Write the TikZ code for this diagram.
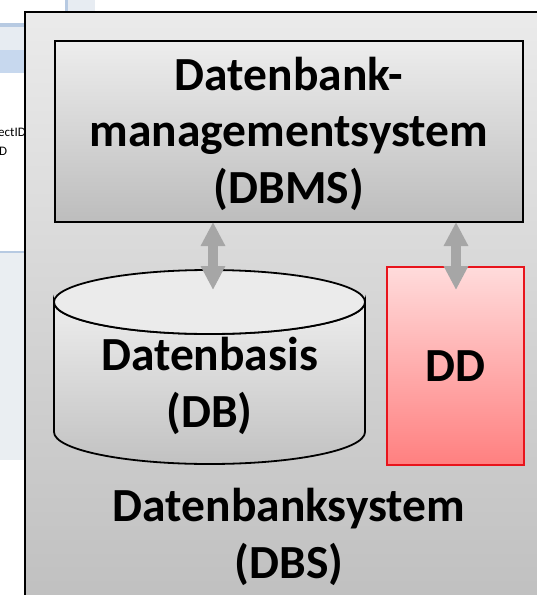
\documentclass[tikz,border=0pt]{standalone}
\usepackage{fontspec}
\setmainfont{Carlito}
\usetikzlibrary{arrows.meta}
\definecolor{winblue}{HTML}{B7CAE2}
\definecolor{winlight}{HTML}{E7ECF2}
\definecolor{winmid}{HTML}{C7D8EE}
\definecolor{winpane}{HTML}{EAEEF2}
\definecolor{arrgray}{HTML}{A6A6A6}
\definecolor{ddred}{HTML}{E8141C}
\begin{document}
\begin{tikzpicture}[x=1pt,y=-1pt,
  bigtext/.style={font=\bfseries\fontsize{47.5}{56.5}\selectfont, align=center, anchor=base, inner sep=0pt},
  graybox/.style={draw=black, line width=1.8pt, top color=black!7, bottom color=black!26, rectangle, inner sep=0pt},
  ddbox/.style={draw=ddred, line width=1.6pt, top color=red!14, bottom color=red!50, rectangle, inner sep=0pt, font=\bfseries\fontsize{47.5}{56.5}\selectfont},
  dblarrow/.style={draw=arrgray, line width=10pt, {Triangle[width=23pt,length=24pt]}-{Triangle[width=23pt,length=24pt]}}
]
\useasboundingbox (0,0) rectangle (537,595);
\fill[white] (0,0) rectangle (537,595);
% background window fragments
\fill[winblue] (65,0) rectangle (68,11);
\fill[winlight] (68,0) rectangle (95,11);
\fill[winblue] (0,23) rectangle (24,27);
\fill[winlight] (0,27) rectangle (24,50);
\fill[winmid] (0,50) rectangle (24,73);
\node[font=\fontsize{13}{15}\selectfont, anchor=base west, inner sep=0pt] (frag1) at (-2,136) {ectID};
\node[font=\fontsize{13}{15}\selectfont, anchor=base west, inner sep=0pt] (frag2) at (-1,155) {D};
\fill[winblue] (0,251) rectangle (24,253);
\fill[winpane] (0,253) rectangle (24,460);
% outer system box
\node[graybox, minimum width=530pt, minimum height=600pt, anchor=north west, top color=black!8, bottom color=black!25] (dbs) at (24,11) {};
% DBMS
\node[graybox, minimum width=468pt, minimum height=181pt] (dbms) at (289,131.5) {};
\node[bigtext] (dbmstext) at (289,203) {Datenbank-\\managementsystem\\(DBMS)};
% cylinder DB
\path[draw=black, line width=1.8pt, top color=black!7, bottom color=black!24]
  (54,302) -- (54,432) arc[start angle=180, end angle=0, x radius=155.5, y radius=32]
  -- (365,302) arc[start angle=0, end angle=180, x radius=155.5, y radius=32] -- cycle;
\draw[line width=1.8pt, fill=black!8] (209.5,302) ellipse[x radius=155.5, y radius=32];
\node[bigtext] (dbtext) at (209.5,427) {Datenbasis\\(DB)};
% DD
\node[ddbox, minimum width=137pt, minimum height=198pt] (dd) at (455.5,366) {DD};
% arrows
\coordinate (a1top) at (213,222);
\coordinate (a1bot) at (213,290);
\coordinate (a2top) at (456,222);
\coordinate (a2bot) at (456,290);
\draw[dblarrow] (a1top) -- (a1bot);
\draw[dblarrow] (a2top) -- (a2bot);
% system label
\node[bigtext] (dbstext) at (289,578) {Datenbanksystem\\(DBS)};
\end{tikzpicture}
\end{document}
